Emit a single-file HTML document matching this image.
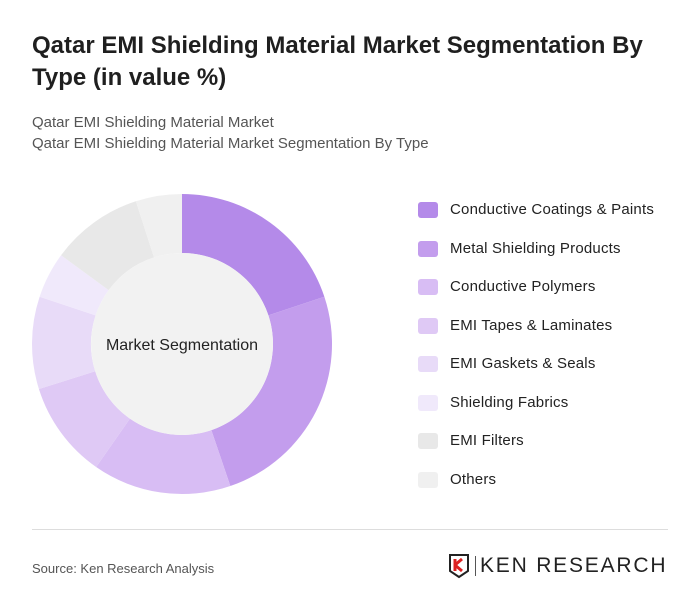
<!DOCTYPE html>
<html><head><meta charset="utf-8"><style>
body{margin:0;background:#fff;font-family:"Liberation Sans",sans-serif;}
#card{position:relative;width:700px;height:615px;background:#fff;overflow:hidden;}
h1{position:absolute;left:32px;top:30px;margin:0;font-size:24px;line-height:32px;font-weight:bold;color:#1f1f1f;width:650px;}
.sub{position:absolute;left:32px;font-size:15px;color:#555;}
.leg{position:absolute;left:418px;font-size:15px;letter-spacing:0.2px;color:#222;}
.leg span.sw{position:absolute;left:0;top:1px;width:20px;height:16px;border-radius:3px;}
.leg span.tx{position:absolute;left:32px;top:0;white-space:nowrap;}
</style></head><body>
<div id="card">
<h1>Qatar EMI Shielding Material Market Segmentation By Type (in value %)</h1>
<div class="sub" style="top:114px">Qatar EMI Shielding Material Market</div>
<div class="sub" style="top:135px">Qatar EMI Shielding Material Market Segmentation By Type</div>
<svg id="donut" width="700" height="615" style="position:absolute;left:0;top:0"></svg>
<div id="legend"></div>
<div style="position:absolute;left:32px;top:529px;width:636px;height:1px;background:#ddd"></div>
<div style="position:absolute;left:32px;top:561px;font-size:13px;color:#555">Source: Ken Research Analysis</div>
<div style="position:absolute;left:448px;top:553px;width:220px;height:26px">
<svg width="24" height="26" style="position:absolute;left:0;top:0"><path d="M2 2h18v16l-9 6-9-6z" fill="none" stroke="#222" stroke-width="2"/><path d="M7 6v12M7 12l7-6M7 12l7 6" stroke="#d22" stroke-width="3" fill="none"/></svg>
<div style="position:absolute;left:27px;top:3px;width:1px;height:20px;background:#555"></div>
<div style="position:absolute;left:32px;top:1px;font-size:21px;letter-spacing:1.8px;color:#222;white-space:nowrap">KEN RESEARCH</div>
</div>
</div>
<script>
const categories=["Conductive Coatings & Paints","Metal Shielding Products","Conductive Polymers","EMI Tapes & Laminates","EMI Gaskets & Seals","Shielding Fabrics","EMI Filters","Others"];
const values=[20,25,15,10.5,10,5,10,5];
const colors=["#b48ae9","#c39ded","#d8bdf4","#dfc9f5","#e8dbf8","#f0e9fb","#e8e8e8","#f0f0f0"];
const svg=document.getElementById('donut');
const NS="http://www.w3.org/2000/svg";
const cx=182,cy=344,R=150,r=91;
const total=values.reduce((a,b)=>a+b,0);
function pt(a,rad){return [cx+rad*Math.sin(a),cy-rad*Math.cos(a)];}
let a0=0;
values.forEach((v,i)=>{
 const a1=a0+v/total*2*Math.PI;
 const [x0,y0]=pt(a0,R),[x1,y1]=pt(a1,R),[x2,y2]=pt(a1,r),[x3,y3]=pt(a0,r);
 const lg=(a1-a0)>Math.PI?1:0;
 const p=document.createElementNS(NS,'path');
 p.setAttribute('d',`M${x0} ${y0}A${R} ${R} 0 ${lg} 1 ${x1} ${y1}L${x2} ${y2}A${r} ${r} 0 ${lg} 0 ${x3} ${y3}Z`);
 p.setAttribute('fill',colors[i]);
 
 
 svg.appendChild(p);
 a0=a1;
});
const c=document.createElementNS(NS,'circle');
c.setAttribute('cx',cx);c.setAttribute('cy',cy);c.setAttribute('r',r);c.setAttribute('fill','#f2f2f2');


svg.appendChild(c);
const t=document.createElementNS(NS,'text');
t.setAttribute('x',cx);t.setAttribute('y',cy+6);t.setAttribute('text-anchor','middle');
t.setAttribute('font-size','16');t.setAttribute('fill','#222');t.setAttribute('font-family','Liberation Sans, sans-serif');
t.textContent='Market Segmentation';


svg.appendChild(t);
const lg=document.getElementById('legend');
categories.forEach((n,i)=>{
 const d=document.createElement('div');d.className='leg';d.style.top=(201+i*38.5)+'px';
 
 
 d.innerHTML=`<span class="sw" style="background:${colors[i]}"></span><span class="tx">${n.replace('&','&amp;')}</span>`;
 lg.appendChild(d);
});
</script>
</body></html>
